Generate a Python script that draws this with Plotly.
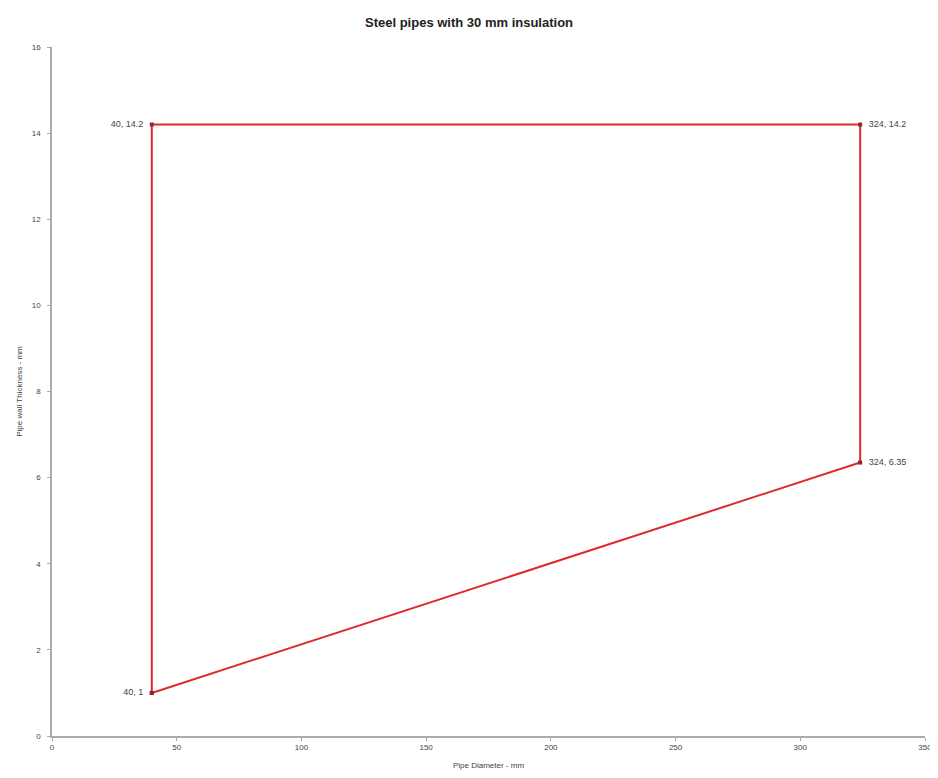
import plotly.graph_objects as go

# Data
x_vals = [40, 40, 324, 324, 40]
y_vals = [1, 14.2, 14.2, 6.35, 1]
point_labels = ["40, 1  ", "40, 14.2  ", "  324, 14.2", "  324, 6.35", ""]
label_pos = ["middle left", "middle left", "middle right", "middle right", "middle left"]
x_ticks = [0, 50, 100, 150, 200, 250, 300, 350]
y_ticks = [0, 2, 4, 6, 8, 10, 12, 14, 16]

fig = go.Figure()
fig.add_trace(go.Scatter(
    x=x_vals, y=y_vals,
    mode="lines+markers+text",
    line=dict(color="#e0282e", width=2),
    marker=dict(color="#8b2a2a", size=4, symbol="square"),
    text=point_labels,
    textposition=label_pos,
    textfont=dict(family="Liberation Sans, Arial", size=9, color="#444444"),
    showlegend=False,
    cliponaxis=False,
))

fig.update_layout(
    width=930, height=762,
    paper_bgcolor="white", plot_bgcolor="white",
    margin=dict(l=44, r=13, t=39, b=34),
    title=dict(text="<b>Steel pipes with 30 mm insulation</b>", x=0.4957, xanchor="center",
               y=0.981, yanchor="middle",
               font=dict(family="Liberation Sans, Arial", size=13, color="#222222")),
    font=dict(family="Liberation Sans, Arial", size=8, color="#444444"),
)
fig.update_xaxes(
    range=[0, 350], tickvals=x_ticks, showgrid=False, zeroline=False, automargin=False,
    showline=True, linecolor="#aaaaaa", linewidth=1.5,
    ticks="outside", ticklen=3, tickcolor="#aaaaaa",
    title=dict(text="Pipe Diameter - mm", font=dict(size=8), standoff=11),
)
fig.update_yaxes(
    range=[0, 16], tickvals=y_ticks, showgrid=False, zeroline=False, automargin=False,
    showline=True, linecolor="#aaaaaa", linewidth=1.5,
    ticks="outside", ticklen=3, tickcolor="#aaaaaa", ticklabelstandoff=5,
    title=dict(text="Pipe wall Thickness - mm", font=dict(size=8), standoff=8),
)

fig.write_html("out.html")
